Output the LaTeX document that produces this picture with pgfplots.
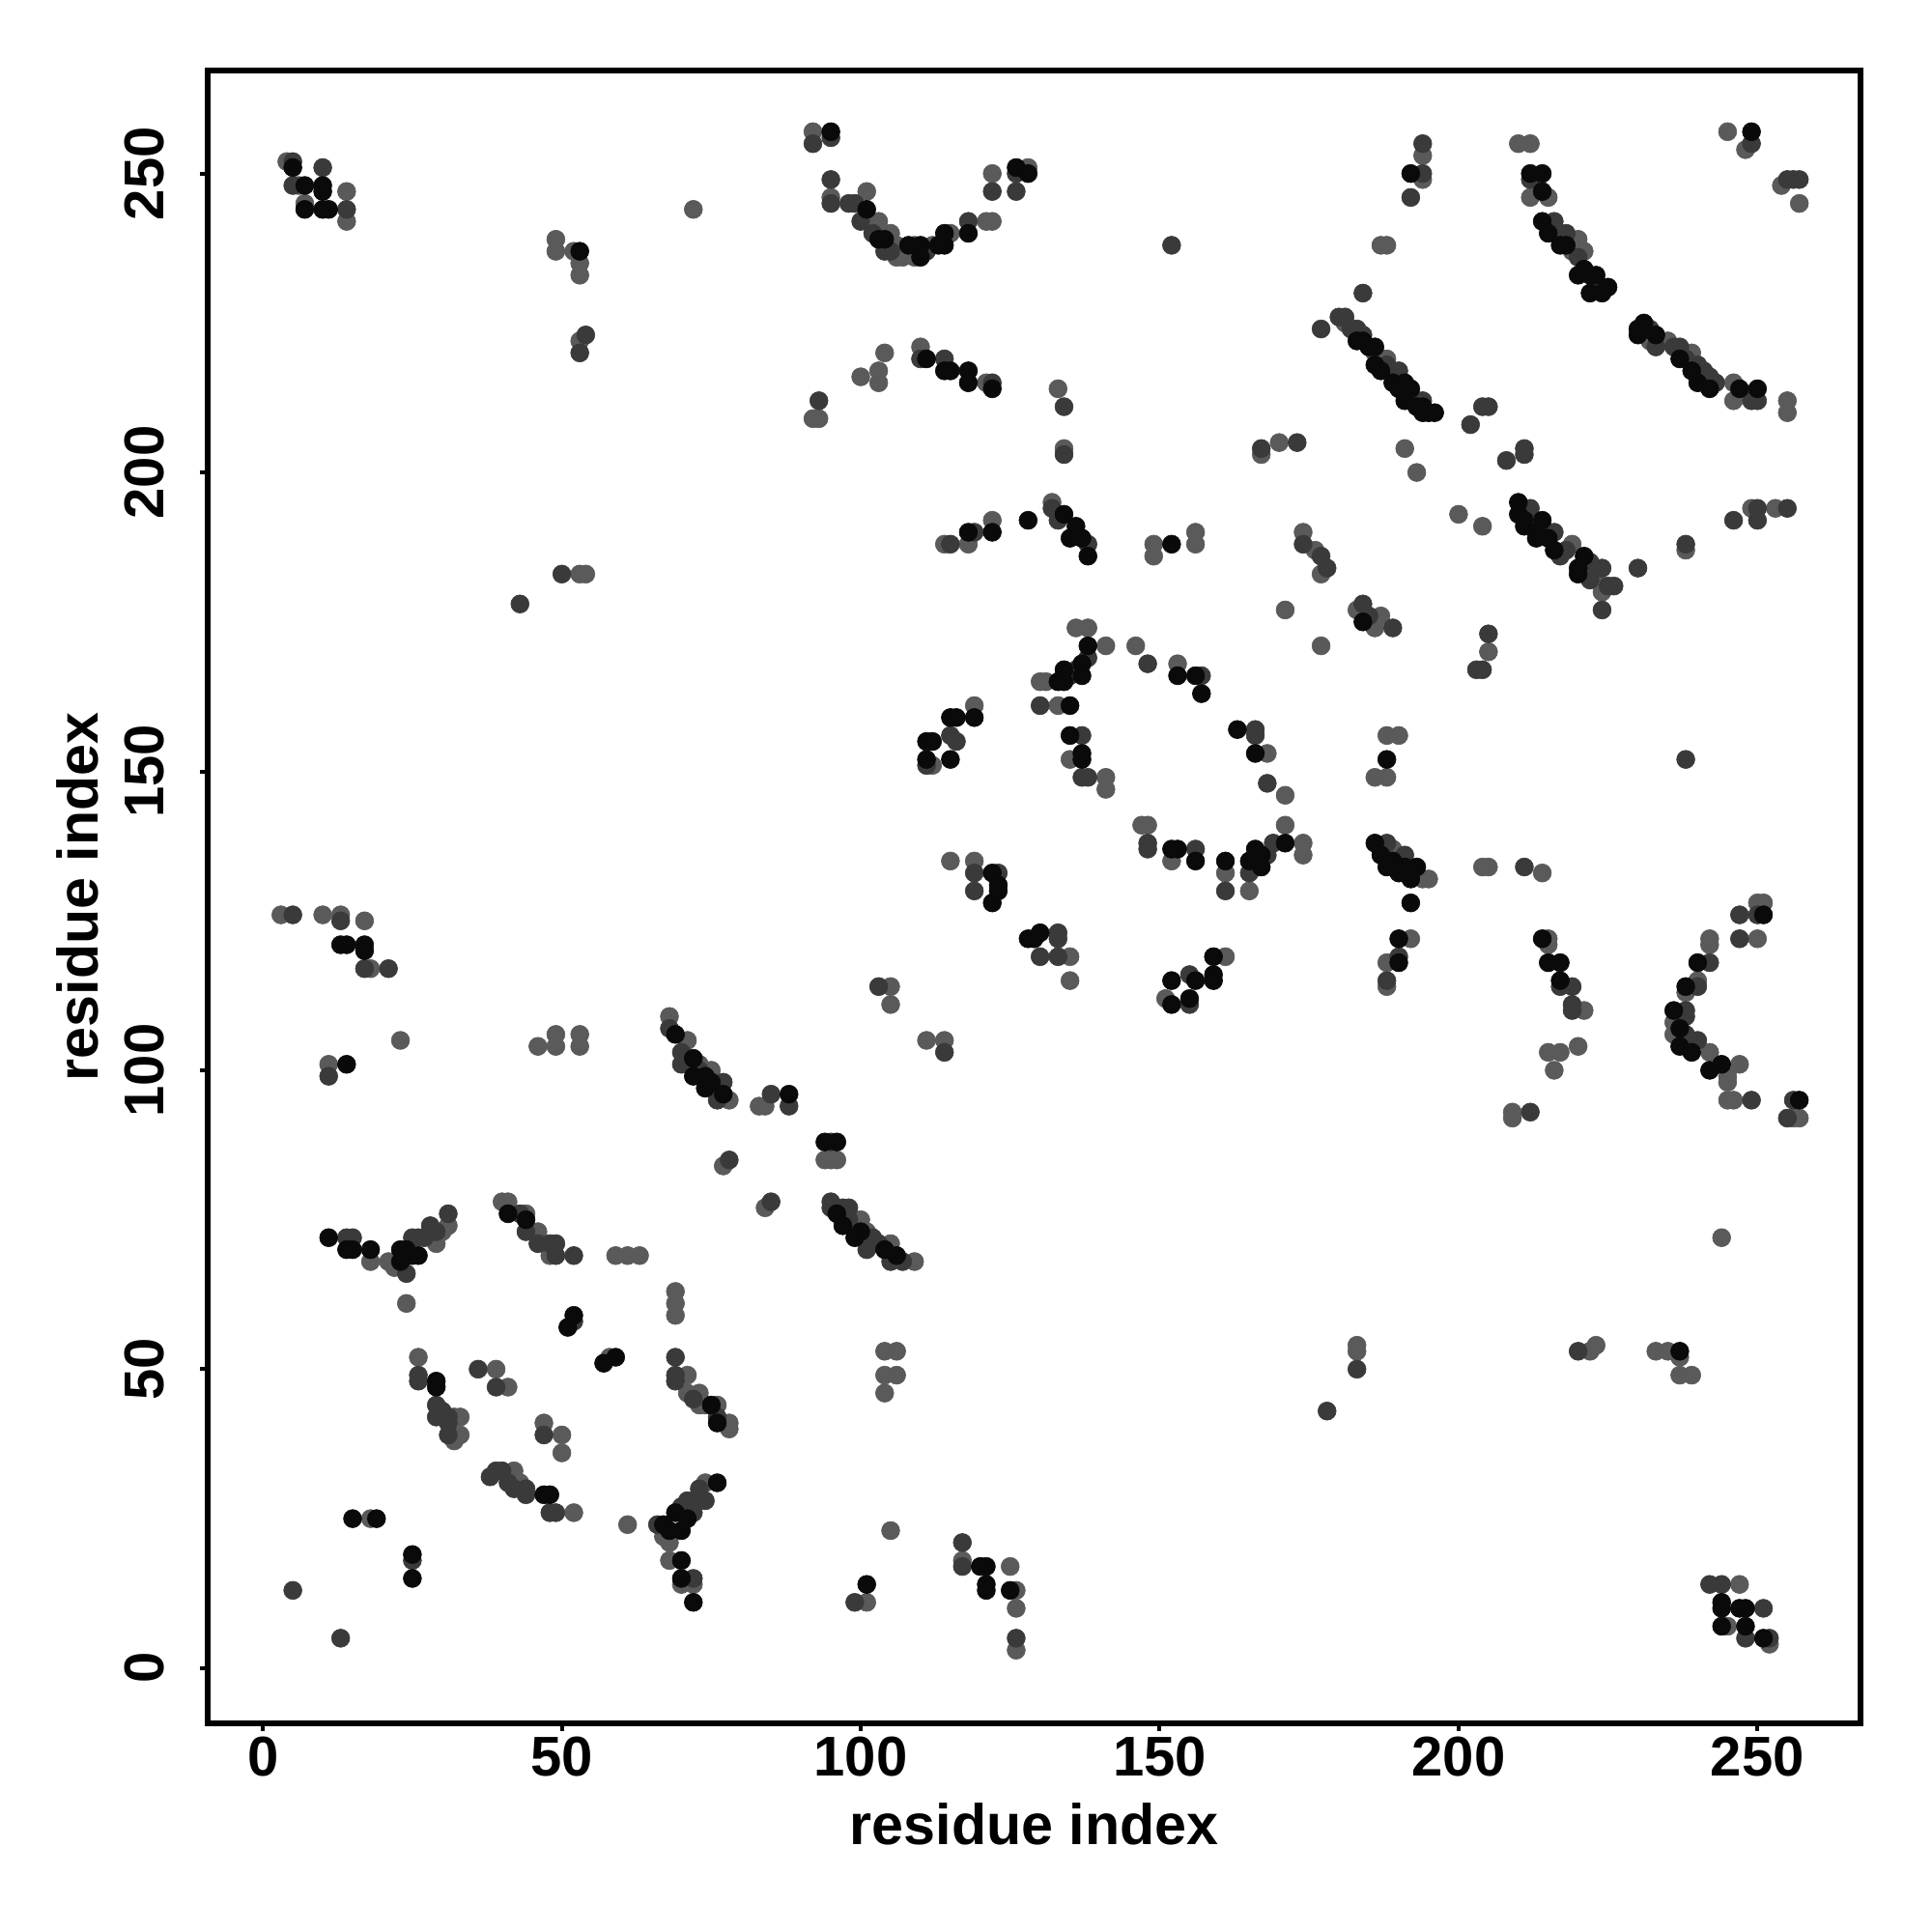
\documentclass[border=0pt]{standalone}
\usepackage{fontspec}
\setmainfont{Liberation Sans}
\usepackage{pgfplots}
\pgfplotsset{compat=1.18}

\definecolor{cblack}{HTML}{0A0A0A}
\definecolor{cdark}{HTML}{3A3A3A}
\definecolor{cmid}{HTML}{5A5A5A}

\pgfplotsset{
  contact/.style={only marks, mark=*, mark size=2.35pt,
    mark options={fill=#1, draw=#1, line width=0.15pt}},
}

\begin{document}
\begin{tikzpicture}
\begin{axis}[
    width=427.75pt, height=427.75pt, scale only axis,
    xmin=-9.24, xmax=267.24, ymin=-9.24, ymax=267.24,
    xtick={0,50,...,250}, ytick={0,50,...,250},
    xtick pos=left, ytick pos=left,
    tick align=outside, major tick length=2pt,
    axis line style={line width=1.35pt},
    tick style={line width=1pt, black},
    /pgf/number format/assume math mode=true,
    ticklabel style={font=\fontsize{14.5}{17}\selectfont\bfseries, inner sep=0pt},
    xticklabel style={anchor=north},
    xticklabel shift=1.25pt,
    yticklabel style={rotate=90, anchor=south},
    yticklabel shift=9pt,
    every axis x label/.style={at={(rel axis cs:0.5,0)}, anchor=base, yshift=-31.25pt, inner sep=0pt,
      font=\fontsize{14.8}{17}\selectfont\bfseries},
    every axis y label/.style={at={(rel axis cs:0,0.5)}, xshift=-28.25pt, rotate=90, anchor=base, inner sep=0pt,
      font=\fontsize{14.8}{17}\selectfont\bfseries},
    xlabel={residue index},
    ylabel={residue index},
]
\coordinate (sw) at (rel axis cs:0,0);
\coordinate (ne) at (rel axis cs:1,1);

% lighter contacts
\addplot[contact=cmid] coordinates {
(4,252)(6,248)(14,247)(7,245)(14,242)(72,244)(49,239)(49,237)(52,237)(53,235)(53,233)(53,222)(53,183)(54,183)
(92,257)(95,246)(101,247)(103,242)(105,240)(106,238)(106,236)(109,238)(109,236)(112,238)(115,240)(121,242)(122,242)(122,250)(128,251)(107,236)
(104,220)(100,216)(103,217)(103,215)(110,221)(121,215)(92,209)(93,209)(133,214)(134,204)(167,203)(170,205)(132,195)(122,192)(114,188)(118,188)(149,188)(149,186)(156,190)(156,188)(171,177)
(194,253)(194,249)(210,255)(212,255)(212,246)(215,246)(220,239)(219,237)(221,237)(223,232)(245,257)(248,254)(254,248)(257,245)(187,238)(188,238)
(181,225)(186,220)(187,219)(188,219)(190,216)
(232,222)(235,222)(239,220)(246,215)(246,212)(255,212)(255,210)
(191,204)(193,200)(219,188)(223,183)(224,180)(200,193)(204,191)(238,187)(249,194)(253,194)
(174,190)(176,187)(177,183)(183,177)(187,176)(186,174)
(3,126)(10,126)(13,126)(17,125)(18,117)(23,105)(11,101)(46,104)(49,106)(49,104)(53,106)(53,104)
(68,109)(71,105)(73,101)(75,100)(78,95)(77,84)(83,94)
(136,174)(138,174)(141,171)(130,165)(131,165)(133,161)(146,171)(153,168)(168,153)(171,146)(171,141)(165,130)(161,133)(174,138)(174,136)
(147,141)(148,141)(152,135)(119,161)(112,151)(135,152)(141,149)(141,147)
(115,135)(119,135)(135,119)(135,115)(161,119)(151,112)(105,114)(105,111)(111,105)(114,105)(84,94)(94,85)(96,85)(95,85)
(177,171)(205,170)(188,156)(190,156)(186,149)(188,149)(189,137)(194,132)(195,132)(204,134)(205,134)(214,133)
(192,122)(188,118)(188,114)(215,122)(215,121)(221,110)(215,103)(217,103)(220,104)(216,100)(209,93)(209,92)
(242,122)(242,121)(240,115)(238,113)(236,108)(236,106)(239,105)(242,103)(247,101)(245,99)(245,98)(245,95)(246,95)(250,122)(250,128)(251,128)(257,92)(256,92)
(18,68)(21,68)(22,67)(29,71)(31,74)(24,61)(30,73)
(40,78)(41,78)(44,76)(46,73)(48,69)(59,69)(61,69)(63,69)(69,63)(69,61)(69,59)(58,52)
(71,49)(71,46)(73,46)(73,44)(76,44)(78,41)(78,40)(74,44)
(26,52)(30,42)(32,42)(33,42)(33,39)(32,38)(39,50)(41,47)(47,41)(50,39)(50,36)(42,33)(52,26)(43,31)
(61,24)(67,22)(68,21)(73,29)(74,31)(68,18)(70,14)(72,14)(18,25)
(84,77)(100,75)(101,73)(105,71)(109,68)(104,53)(106,53)(104,49)(106,49)(104,46)(105,23)(101,11)
(117,18)(125,17)(126,13)(126,10)(126,3)
(244,72)(183,54)(183,53)(222,53)(223,54)(233,53)(235,53)(237,52)(237,49)(239,49)(247,14)(245,7)(252,4)
};

% darker contacts
\addplot[contact=cdark] coordinates {
(5,252)(10,251)(5,248)(14,244)(54,223)(53,220)(50,183)(43,178)
(92,255)(95,256)(95,249)(95,245)(98,245)(99,245)(100,242)(104,237)(118,242)(122,247)(126,250)(126,247)(152,238)(102,240)(105,237)(111,237)
(110,219)(114,219)(122,215)(93,212)(134,211)(134,203)(167,204)(173,205)(132,194)(133,192)(138,188)(119,190)(115,188)
(194,255)(194,250)(192,246)(212,249)(216,242)(218,240)(216,241)(220,236)(223,231)(249,255)(255,249)(256,249)(257,249)(184,230)(177,224)
(180,226)(181,226)(182,224)(183,224)(184,223)(188,218)(189,217)(190,217)(192,213)(193,212)(194,212)
(232,224)(233,221)(236,221)(237,221)(238,219)(240,218)(241,217)(242,216)(243,215)(249,212)(250,212)
(204,211)(205,211)(202,208)(208,202)(211,204)(211,203)
(212,194)(216,190)(217,186)(218,187)(222,185)(224,184)(222,182)(226,181)(225,181)(224,177)
(230,184)(238,188)(246,192)(250,194)(250,192)(255,194)
(174,188)(177,186)(178,184)(184,178)(189,174)(185,176)
(5,126)(13,125)(17,117)(21,117)(11,99)
(68,107)(70,103)(70,101)(77,98)(76,95)(73,100)(76,97)(78,85)
(138,169)(135,166)(136,167)(130,161)(148,168)(157,166)(166,157)(166,156)(168,148)(169,138)(168,136)(165,133)(161,130)(166,134)
(148,138)(148,137)(156,137)(115,156)(116,155)(111,151)(137,156)(137,149)(138,149)
(119,133)(119,130)(123,133)(133,123)(133,122)(130,119)(133,119)(155,116)(155,111)(103,114)(114,103)(85,96)(88,94)(95,88)
(205,173)(203,167)(204,167)(238,152)(188,138)(191,136)(190,135)(211,134)
(190,119)(188,115)(219,114)(217,114)(219,111)(219,110)(212,93)
(242,118)(240,114)(238,110)(238,109)(238,106)(240,105)(249,95)(247,126)(247,122)(250,126)(256,95)(255,92)
(14,72)(15,72)(24,66)(25,72)(26,72)(28,74)(29,73)(31,76)(27,72)
(43,76)(44,73)(46,71)(48,71)(49,71)(49,69)(52,69)(52,58)
(69,52)(69,49)(69,48)(76,42)(72,45)
(26,49)(26,48)(29,44)(29,42)(31,42)(31,41)(31,39)(30,43)(36,50)(39,47)(47,39)
(38,32)(39,33)(40,33)(41,31)(42,30)(44,30)(44,29)(48,26)(49,26)(66,24)
(71,28)(72,26)(74,28)(73,30)(70,27)(72,15)(25,18)(5,13)(13,5)
(85,78)(95,78)(95,77)(97,77)(98,77)(101,70)(103,71)(105,68)(98,75)(102,72)(107,68)(99,11)
(117,21)(117,17)(126,5)
(183,50)(178,43)(220,53)(242,14)(244,14)(251,10)(248,5)(252,5)
};

% strongest contacts
\addplot[contact=cblack] coordinates {
(5,251)(7,248)(10,248)(10,247)(7,244)(10,244)(11,244)(53,237)
(95,257)(101,244)(103,239)(110,238)(110,236)(114,240)(114,238)(118,240)(126,251)(128,250)(104,239)(108,238)(113,238)
(111,219)(114,217)(115,217)(118,217)(118,215)(122,214)(134,193)(135,189)(136,191)(137,189)(138,186)(128,192)(122,190)(118,190)(152,188)
(192,250)(212,250)(214,250)(214,247)(214,242)(215,240)(217,238)(220,233)(222,233)(223,233)(222,230)(224,230)(225,231)(218,238)(221,234)(249,257)
(183,222)(184,222)(185,221)(186,221)(186,218)(187,217)(189,215)(190,214)(191,215)(192,214)(191,212)(193,211)(194,210)(195,210)(196,210)(194,211)
(231,225)(230,224)(230,223)(233,223)(237,219)(239,217)(240,215)(242,214)(247,214)(250,214)
(210,195)(210,193)(211,192)(211,191)(214,192)(213,190)(213,189)(215,189)(216,187)(221,186)(220,184)(220,183)
(184,175)
(13,121)(14,121)(17,121)(17,120)(14,101)
(69,106)(72,102)(72,99)(74,97)(75,98)(74,99)(77,96)
(138,171)(137,168)(134,167)(134,165)(133,165)(137,166)(135,161)(153,166)(156,166)(157,163)(163,157)(166,153)(171,138)(166,137)(165,135)(167,134)(161,135)(167,136)
(152,137)(153,137)(156,135)(119,159)(115,159)(116,159)(111,155)(112,155)(111,152)(115,152)(135,156)(137,153)(137,152)
(122,133)(123,130)(122,128)(123,131)(128,122)(130,123)(129,122)(152,115)(156,115)(159,119)(159,115)(159,116)(152,111)(155,112)(88,96)(94,88)(96,88)
(188,152)(186,138)(187,136)(188,134)(193,134)(190,133)(192,132)(189,135)(191,134)(192,128)
(190,122)(190,118)(214,122)(215,118)(217,118)(217,115)
(240,118)(238,114)(236,110)(237,107)(237,104)(239,103)(242,100)(244,101)(251,126)(257,95)
(11,72)(14,70)(15,70)(18,70)(23,70)(24,69)(25,69)(26,69)(23,68)(24,70)
(41,76)(44,75)(52,59)(51,57)(57,51)(59,52)(75,44)(76,41)(29,48)(29,47)(47,29)(48,29)
(69,26)(67,24)(70,23)(76,31)(71,25)(68,23)(70,18)(70,15)(72,11)(15,25)(19,25)(25,19)(25,15)
(97,74)(99,72)(106,69)(96,76)(100,73)(104,70)(101,14)
(120,17)(121,17)(121,14)(121,13)(125,13)
(237,53)(244,11)(244,10)(247,10)(248,10)(244,7)(248,7)(251,5)
};
\end{axis}
\pgfresetboundingbox
\path ([shift={(-53.75pt,-54pt)}]sw) rectangle ([shift={(18.5pt,18.25pt)}]ne);
\end{tikzpicture}
\end{document}
